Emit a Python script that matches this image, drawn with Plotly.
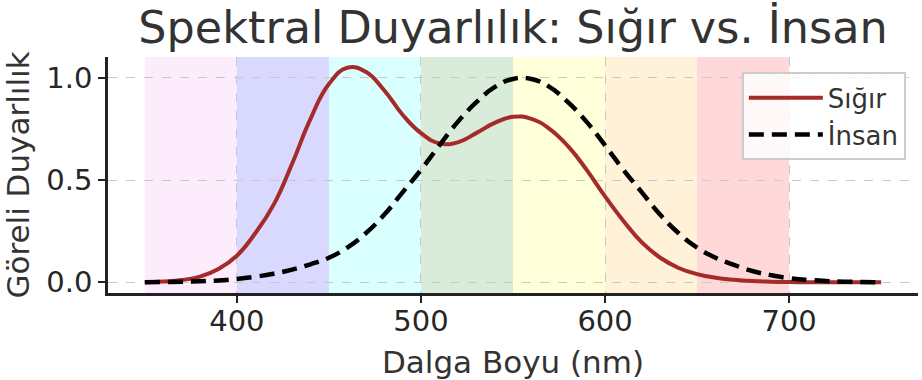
import plotly.graph_objects as go

wavelength = [350, 360, 370, 380, 390, 400, 410, 420, 430, 440, 450, 460, 470, 480, 490,
              500, 510, 520, 530, 540, 550, 560, 570, 580, 590, 600, 610, 620, 630, 640,
              650, 660, 670, 680, 690, 700, 710, 720, 730, 740, 750]
cattle = [0.000, 0.004, 0.011, 0.028, 0.065, 0.13, 0.24, 0.38, 0.58, 0.80, 0.97, 1.05, 1.03, 0.94, 0.82,
          0.73, 0.68, 0.685, 0.73, 0.78, 0.81, 0.80, 0.75, 0.665, 0.55, 0.42, 0.30, 0.195, 0.12, 0.07,
          0.04, 0.022, 0.012, 0.006, 0.003, 0.001, 0.0, 0.0, 0.0, 0.0, 0.0]
human = [0.000, 0.001, 0.002, 0.005, 0.009, 0.016, 0.027, 0.042, 0.062, 0.088, 0.12, 0.17, 0.24, 0.33, 0.44,
         0.55, 0.67, 0.785, 0.88, 0.955, 0.995, 0.995, 0.955, 0.88, 0.785, 0.67, 0.55, 0.44, 0.33, 0.24,
         0.17, 0.12, 0.085, 0.055, 0.035, 0.02, 0.012, 0.006, 0.003, 0.001, 0.0]

band_starts = [350, 400, 450, 500, 550, 600, 650]
band_ends = [400, 450, 500, 550, 600, 650, 700]
band_colors = ["rgb(238,130,238)", "rgb(0,0,255)", "rgb(0,255,255)", "rgb(0,128,0)",
               "rgb(255,255,0)", "rgb(255,165,0)", "rgb(255,0,0)"]

x_ticks = [400, 500, 600, 700]
y_ticks = [0.0, 0.5, 1.0]

FONT = "DejaVu Sans"
fig = go.Figure()

for s, e, c in zip(band_starts, band_ends, band_colors):
    fig.add_vrect(x0=s, x1=e, fillcolor=c, opacity=0.15, line_width=0, layer="below")

fig.add_trace(go.Scatter(x=wavelength, y=cattle, mode="lines", name="Sığır",
                         line=dict(color="#a52a2a", width=4, shape="spline", smoothing=1.3)))
fig.add_trace(go.Scatter(x=wavelength, y=human, mode="lines", name="İnsan",
                         line=dict(color="black", width=4.5, dash="15px,8px",
                                   shape="spline", smoothing=1.3)))

fig.update_layout(
    width=922, height=380,
    margin=dict(l=108, r=4, t=57, b=87),
    paper_bgcolor="white", plot_bgcolor="white",
    font=dict(family=FONT, color="#262626"),
    title=dict(text="Spektral Duyarlılık: Sığır vs. İnsan", x=0.5, xref="paper",
               y=1 - 27 / 380, yanchor="middle", xanchor="center",
               font=dict(size=44.5, family=FONT, color="#333333")),
    legend=dict(x=0.985, y=0.935, xanchor="right", yanchor="top",
                bgcolor="rgba(255,255,255,0.8)", bordercolor="#cccccc", borderwidth=2,
                font=dict(size=26, family=FONT, color="#333333"), itemwidth=74,
                tracegroupgap=2),
    showlegend=True,
)
fig.update_xaxes(range=[330, 770], tickvals=x_ticks, ticks="outside", ticklen=7, tickwidth=2,
                 tickcolor="#222222", showline=True, linewidth=2.5, linecolor="#222222",
                 showgrid=True, gridcolor="#c8c8c8", griddash="dash", gridwidth=1,
                 zeroline=False, automargin=False, ticklabelstandoff=-7,
                 tickfont=dict(size=29, family=FONT, color="#262626"),
                 title=dict(text="Dalga Boyu (nm)", standoff=15,
                            font=dict(size=31, family=FONT, color="#333333")))
fig.update_yaxes(range=[-0.0525, 1.1025], tickvals=y_ticks, tickformat=".1f", ticks="outside",
                 ticklen=7, tickwidth=2, tickcolor="#222222", showline=True, linewidth=2.5,
                 linecolor="#222222", showgrid=True, gridcolor="#c8c8c8", griddash="dash",
                 gridwidth=1, zeroline=False, automargin=False,
                 tickfont=dict(size=29, family=FONT, color="#262626"),
                 title=dict(text="Göreli Duyarlılık", standoff=8,
                            font=dict(size=31, family=FONT, color="#333333")))

fig.write_html("out.html", config={"displayModeBar": False},
               post_script="document.body.style.margin='0px';")
